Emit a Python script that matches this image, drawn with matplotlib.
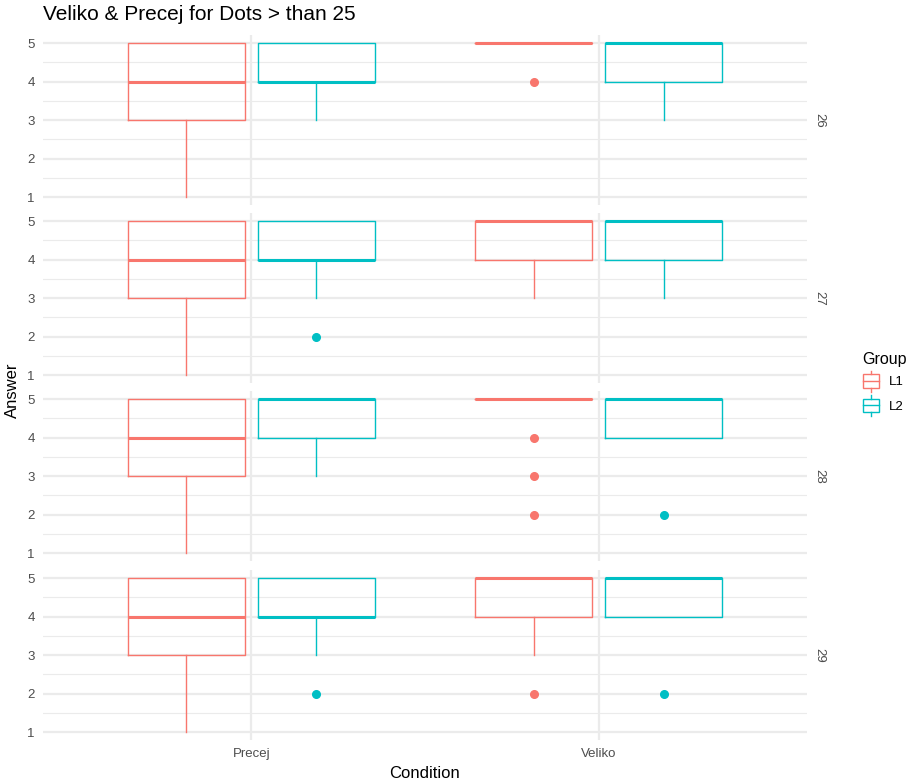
import matplotlib
matplotlib.use("Agg")
import matplotlib.pyplot as plt
from matplotlib.legend_handler import HandlerBase
from matplotlib.patches import Rectangle
from matplotlib.lines import Line2D

plt.rcParams['font.family'] = ['Liberation Sans', 'DejaVu Sans']

# ---------------- data ----------------
facets = [26, 27, 28, 29]
conditions = ["Precej", "Veliko"]
groups = ["L1", "L2"]
group_colors = ["#F8766D", "#00BFC4"]

# rows = facets, columns = conditions (Precej, Veliko)
l1_q1 = [[3, 5], [3, 4], [3, 5], [3, 4]]
l1_med = [[4, 5], [4, 5], [4, 5], [4, 5]]
l1_q3 = [[5, 5], [5, 5], [5, 5], [5, 5]]
l1_whislo = [[1, 5], [1, 3], [1, 5], [1, 3]]
l1_whishi = [[5, 5], [5, 5], [5, 5], [5, 5]]
l1_fliers = [[[], [4]], [[], []], [[], [4, 3, 2]], [[], [2]]]

l2_q1 = [[4, 4], [4, 4], [4, 4], [4, 4]]
l2_med = [[4, 5], [4, 5], [5, 5], [4, 5]]
l2_q3 = [[5, 5], [5, 5], [5, 5], [5, 5]]
l2_whislo = [[3, 3], [3, 3], [3, 4], [3, 4]]
l2_whishi = [[5, 5], [5, 5], [5, 5], [5, 5]]
l2_fliers = [[[], []], [[2], []], [[], [2]], [[2], [2]]]

yticks = [1, 2, 3, 4, 5]

group_stats = [
    (l1_q1, l1_med, l1_q3, l1_whislo, l1_whishi, l1_fliers),
    (l2_q1, l2_med, l2_q3, l2_whislo, l2_whishi, l2_fliers),
]

# ---------------- figure ----------------
W, H = 915, 783
fig = plt.figure(figsize=(W / 100, H / 100), dpi=100)

panel_left, panel_right = 43, 807
panel_tops = [35.3, 213.3, 391.3, 570.3]
panel_h = 169.6

dodge = 0.75
box_w = dodge / 2 * 0.9
lw = 1.0
grid_c = "#EBEBEB"
txt_c = "#4D4D4D"

axes = []
for fi, facet in enumerate(facets):
    top = panel_tops[fi]
    ax = fig.add_axes([panel_left / W, 1 - (top + panel_h) / H,
                       (panel_right - panel_left) / W, panel_h / H])
    axes.append(ax)
    ax.set_xlim(0.4, 2.6)
    ax.set_ylim(0.8, 5.2)
    for s in ax.spines.values():
        s.set_visible(False)
    ax.set_yticks(yticks)
    ax.set_yticks([1.5, 2.5, 3.5, 4.5], minor=True)
    ax.set_xticks([1, 2])
    ax.grid(True, which="major", color=grid_c, linewidth=1.6, zorder=0)
    ax.grid(True, which="minor", axis="y", color=grid_c, linewidth=0.8, zorder=0)
    ax.tick_params(which="both", length=0, colors=txt_c, labelsize=9.5, pad=6)
    ax.set_axisbelow(True)
    if fi < len(facets) - 1:
        ax.set_xticklabels([])
    else:
        ax.set_xticklabels(conditions)
    for gi, (q1, med, q3, wlo, whi, fl) in enumerate(group_stats):
        stats = []
        positions = []
        for ci, cond in enumerate(conditions):
            stats.append(dict(q1=q1[fi][ci], med=med[fi][ci], q3=q3[fi][ci],
                              whislo=wlo[fi][ci], whishi=whi[fi][ci],
                              fliers=fl[fi][ci]))
            positions.append(ci + 1 + (gi - 0.5) * dodge / 2)
        col = group_colors[gi]
        ax.bxp(stats, positions=positions, widths=box_w, showcaps=False,
               patch_artist=False, manage_ticks=False,
               boxprops=dict(color=col, linewidth=lw),
               whiskerprops=dict(color=col, linewidth=lw),
               medianprops=dict(color=col, linewidth=lw * 2.2, solid_capstyle="butt"),
               flierprops=dict(marker="o", markerfacecolor=col, markeredgecolor=col,
                               markersize=5.5, linestyle="none"))
    ax.text(1.008, 0.5, str(facet), transform=ax.transAxes, rotation=-90,
            ha="left", va="center", fontsize=9.5, color=txt_c)

fig.text(43 / W, 1 - 14 / H, "Veliko & Precej for Dots > than 25", ha="left",
         va="center", fontsize=15, color="black")
fig.text(12 / W, 1 - 390 / H, "Answer", rotation=90, ha="center", va="center",
         fontsize=12, color="black")
fig.text(425 / W, 1 - 773 / H, "Condition", ha="center", va="center",
         fontsize=12, color="black")


class BoxHandler(HandlerBase):
    def create_artists(self, legend, orig_handle, xdescent, ydescent, width,
                       height, fontsize, trans):
        col = orig_handle.get_color()
        x0, y0 = -xdescent, -ydescent
        bw = width * 0.9
        bx = x0 + (width - bw) / 2
        by0 = y0 + height * 0.15
        by1 = y0 + height * 0.85
        rect = Rectangle((bx, by0), bw, by1 - by0, fill=False, edgecolor=col,
                         linewidth=lw, transform=trans)
        med = Line2D([bx, bx + bw], [(by0 + by1) / 2] * 2, color=col,
                     linewidth=lw, transform=trans)
        xc = x0 + width / 2
        w1 = Line2D([xc, xc], [y0 - height * 0.05, by0], color=col, linewidth=lw,
                    transform=trans)
        w2 = Line2D([xc, xc], [by1, y0 + height * 1.05], color=col, linewidth=lw,
                    transform=trans)
        return [rect, med, w1, w2]


handles = [Line2D([], [], color=c) for c in group_colors]
leg = fig.legend(handles, groups, title="Group", loc="upper left",
                 bbox_to_anchor=(850 / W, 1 - 340 / H), frameon=False,
                 handler_map={Line2D: BoxHandler()}, handlelength=1.35,
                 handleheight=1.9, handletextpad=0.7, labelspacing=0.35,
                 fontsize=9.5, title_fontsize=11.5, alignment="left")
for t in leg.get_texts():
    t.set_color("black")

fig.savefig("out.png", dpi=100, facecolor="white")
